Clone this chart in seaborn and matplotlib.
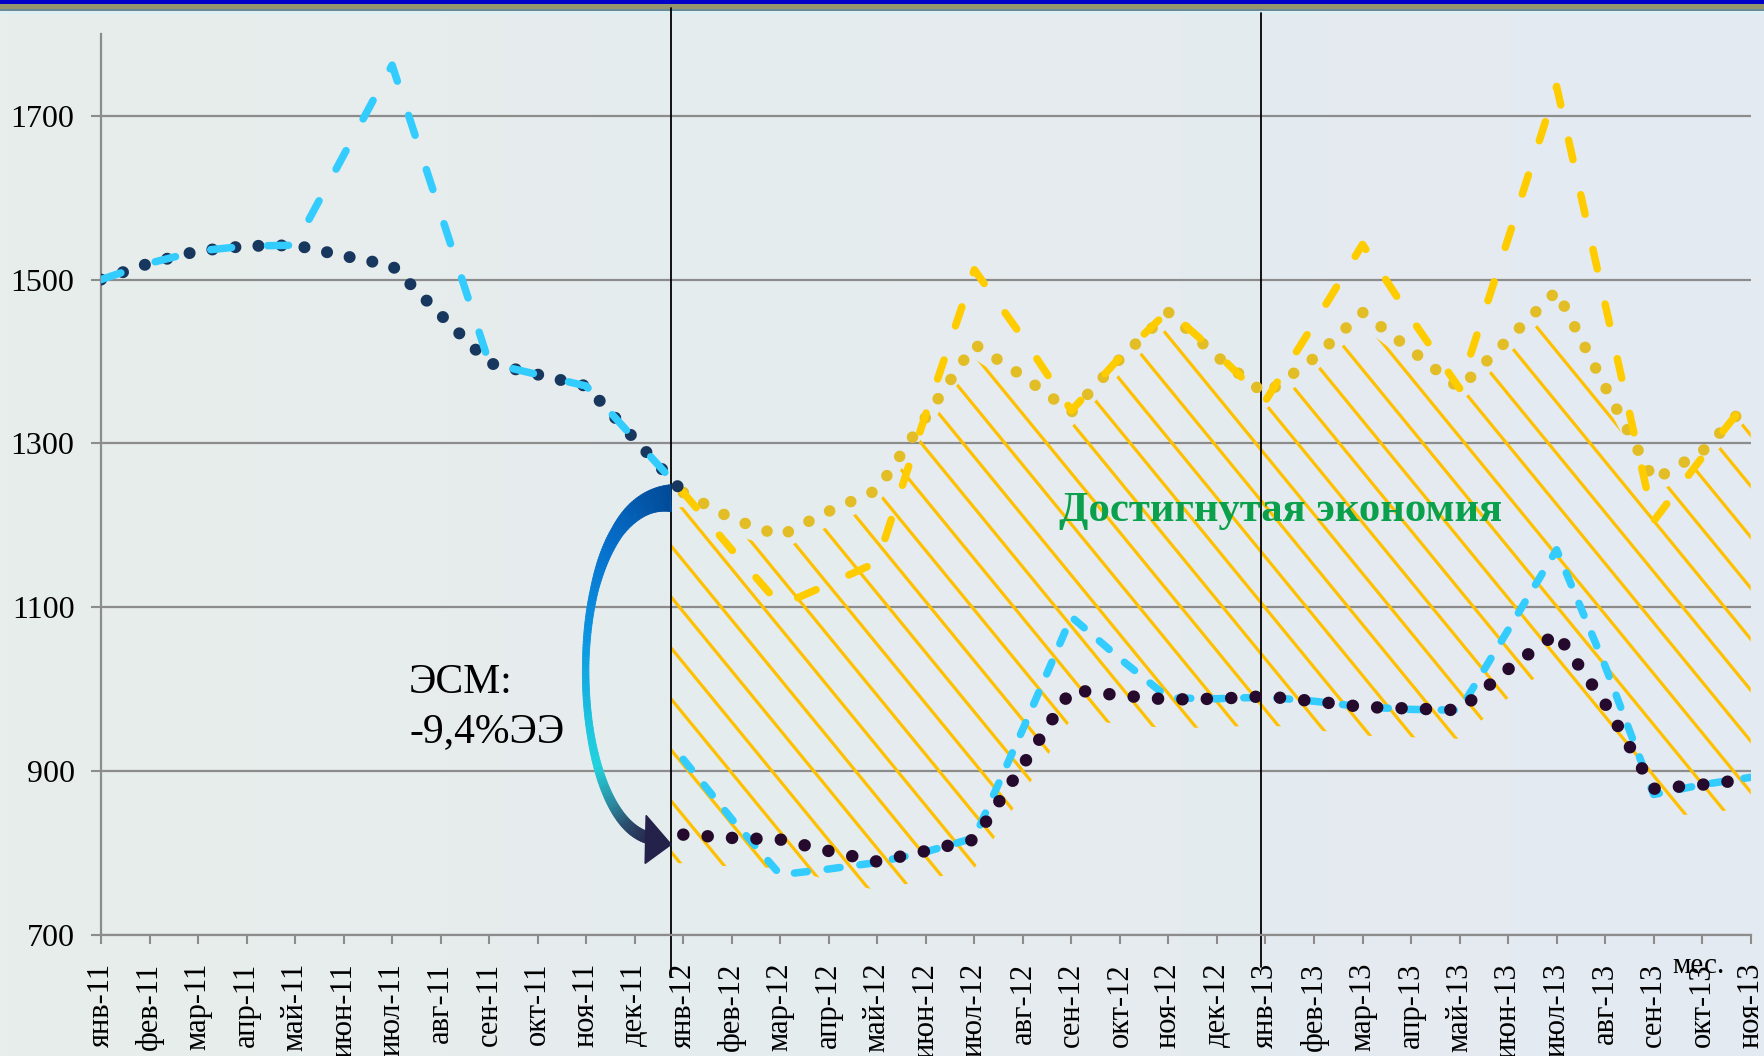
import numpy as np
import matplotlib
matplotlib.use("Agg")
import matplotlib.pyplot as plt
import seaborn as sns
from matplotlib.collections import LineCollection, PolyCollection
from matplotlib.patches import Rectangle, Polygon
from matplotlib.transforms import IdentityTransform
from matplotlib.colors import LinearSegmentedColormap

# ---- data -------------------------------------------------------------
month_names = ["янв", "фев", "мар", "апр", "май", "июн",
               "июл", "авг", "сен", "окт", "ноя", "дек"]
tick_labels = [f"{m}-{y}" for y in ("11", "12", "13") for m in month_names][:35]

# 2011 (before energy-saving measures), months 0..12
x_2011 = list(range(0, 13))
base_2011 = [1500, 1520, 1535, 1541, 1542, 1529, 1517, 1457, 1398, 1384, 1370, 1305, 1240]
fact_2011 = [1500, 1520, 1535, 1541, 1542, 1652, 1762, 1581, 1398, 1384, 1370, 1305, 1240]

# 2012-2013, months 12..34
x_2012 = list(range(12, 35))
base_forecast_dotted = [1240, 1208, 1187, 1217, 1243, 1332, 1421, 1382, 1338, 1403, 1460, 1406,
                        1360, 1404, 1460, 1414, 1367, 1427, 1486, 1369, 1255, 1290, 1352]
base_forecast_dashed = [1240, 1170, 1102, 1128, 1155, 1336, 1512, 1429, 1340, 1405, 1462, 1410,
                        1352, 1446, 1543, 1453, 1367, 1550, 1736, 1470, 1205, 1283, 1357]
esm_dotted = [822, 818, 816, 802, 789, 802, 816, 907, 999, 992, 987, 988,
              991, 985, 978, 976, 974, 1024, 1068, 982, 878, 883, 890]
esm_dashed = [914, 841, 773, 780, 788, 801, 818, 951, 1088, 1037, 989, 988,
              990, 985, 978, 975, 974, 1072, 1170, 1028, 871, 883, 892]

year_breaks = [11.75, 23.9]
y_ticks = [700, 900, 1100, 1300, 1500, 1700]

# ---- style ------------------------------------------------------------
sns.set_theme(style="white")
plt.rcParams["font.family"] = ["Liberation Serif", "DejaVu Serif"]

W, H, DPI = 1765, 1056, 100
fig = plt.figure(figsize=(W / DPI, H / DPI), dpi=DPI)

# soft background gradient
bg = fig.add_axes([0, 0, 1, 1], zorder=-10)
g = np.linspace(0, 1, 256)
c0 = np.array([231, 238, 235]) / 255
c1 = np.array([228, 234, 242]) / 255
img = c0[None, None, :] * (1 - g[None, :, None]) + c1[None, None, :] * g[None, :, None]
bg.imshow(img, aspect="auto", extent=[0, 1, 0, 1])
bg.axis("off")

# header strip
for y0, h, col in [(4.5, 4.5, "#0000c8"), (9.5, 5.0, "#96966e"),
                   (10.5, 1.0, "#6a8a96"), (13.5, 3.0, "#dcf0f4")]:
    fig.add_artist(Rectangle((0, 1 - y0 / H), 1, h / H, transform=fig.transFigure,
                             facecolor=col, edgecolor="none", zorder=-5))

ax = fig.add_axes([101 / W, (H - 934.5) / H, (1750.7 - 101) / W, 900.5 / H])
ax.set_facecolor("none")

GREY = "#8c8c8c"
GOLD = "#ffcc00"
GOLD_DOT = "#e2bd26"
SKY = "#33ccff"
NAVY = "#17375e"
PLUM = "#250a2d"

px = 0.72  # points per pixel at 100 dpi


def dotted(lw_px, step_px):
    return dict(linewidth=lw_px * px, linestyle=(0, (0.01, step_px / lw_px)),
                dash_capstyle="round", solid_capstyle="round")


def dashed(lw_px, on_px, off_px):
    return dict(linewidth=lw_px * px, linestyle=(0, (on_px / lw_px, off_px / lw_px)),
                dash_capstyle="round", solid_capstyle="round")


# forecast without measures
sns.lineplot(x=x_2012, y=base_forecast_dotted, ax=ax, color=GOLD_DOT, sort=False,
             legend=False, zorder=3, **dotted(11.5, 23))
sns.lineplot(x=x_2012, y=base_forecast_dashed, ax=ax, color=GOLD, sort=False,
             legend=False, zorder=3.2, **dashed(7.5, 20, 36))
# 2011
sns.lineplot(x=x_2011, y=base_2011, ax=ax, color=NAVY, sort=False,
             legend=False, zorder=4, **dotted(12, 23))
sns.lineplot(x=x_2011, y=fact_2011, ax=ax, color=SKY, sort=False,
             legend=False, zorder=4.5, **dashed(7.5, 21, 36))
# with measures
sns.lineplot(x=x_2012, y=esm_dashed, ax=ax, color=SKY, sort=False,
             legend=False, zorder=4, **dashed(7.5, 13, 20))
sns.lineplot(x=x_2012, y=esm_dotted, ax=ax, color=PLUM, sort=False,
             legend=False, zorder=5, **dotted(12.5, 24.3))

ax.set_xlim(0, 34)
ax.set_ylim(700, 1800)
ax.set_xlabel("")
ax.set_ylabel("")

# axes cosmetics
ax.set_yticks(y_ticks)
ax.set_xticks(range(len(tick_labels)))
ax.set_xticklabels(tick_labels, rotation=90, fontsize=22)
ax.set_yticklabels([str(v) for v in y_ticks], fontsize=23)
ax.yaxis.grid(True, color=GREY, linewidth=1.6)
ax.xaxis.grid(False)
ax.set_axisbelow(True)
for side in ("top", "right"):
    ax.spines[side].set_visible(False)
for side in ("left", "bottom"):
    ax.spines[side].set_color(GREY)
    ax.spines[side].set_linewidth(1.6)
ax.tick_params(axis="x", direction="out", length=6.5, width=1.5, color=GREY,
               pad=14, labelcolor="black", bottom=True)
ax.tick_params(axis="y", direction="out", length=7, width=1.5, color=GREY,
               pad=12, labelcolor="black", left=True)

# year separators
ax.axvline(year_breaks[0], ymin=-0.047, ymax=1.029, color="black", lw=1.3,
           clip_on=False, zorder=2.5)
ax.axvline(year_breaks[1], ymin=-0.036, ymax=1.023, color="black", lw=1.3,
           clip_on=False, zorder=2.5)

# ---- hatched "savings" band between forecast and actual ----------------
hx = [year_breaks[0]] + x_2012
upper = np.array([base_forecast_dotted[0]] + base_forecast_dotted) - 18
lower = np.array([esm_dotted[0]] + esm_dotted) - 35
band = ax.fill_between(hx, lower, upper, facecolor="none", edgecolor="none", zorder=1)
band_path = band.get_paths()[0]

bx, by = ax.transData.transform((year_breaks[0], 1050))
slope, step = -1.22, 51.0
segs = []
for k in range(-70, 70):
    y0 = by + k * step
    segs.append([(0, y0 + slope * (0 - bx)), (W, y0 + slope * (W - bx))])
hatch = LineCollection(segs, colors="#ffc000", linewidths=2.3,
                       transform=IdentityTransform(), zorder=1.5)
ax.add_collection(hatch, autolim=False)
hatch.set_clip_path(band_path, ax.transData)

# ---- curved gradient arrow -------------------------------------------
p0 = np.array(ax.transData.transform((year_breaks[0], 1233)))
tip = np.array(ax.transData.transform((year_breaks[0], 810)))
P0 = p0
P1 = p0 + np.array([-113, 0])
P2 = p0 + np.array([-108, -323])
P3 = tip + np.array([-20, 6])
t = np.linspace(0, 1, 160)[:, None]
curve = ((1 - t) ** 3) * P0 + 3 * ((1 - t) ** 2) * t * P1 + 3 * (1 - t) * t ** 2 * P2 + t ** 3 * P3
d = np.gradient(curve, axis=0)
d /= np.linalg.norm(d, axis=1)[:, None]
nrm = np.column_stack([-d[:, 1], d[:, 0]])
wt = np.interp(t[:, 0], [0, 0.08, 0.2, 0.35, 0.5, 0.65, 0.8, 0.92, 1.0],
               [27, 21, 13, 8, 6.5, 7, 9, 11, 12])
left = curve + nrm * wt[:, None] / 2
right = curve - nrm * wt[:, None] / 2
cmap = LinearSegmentedColormap.from_list("swoosh", [
    (0.0, "#004a98"), (0.25, "#0670cc"), (0.45, "#0a95e2"), (0.62, "#1cc4e0"),
    (0.72, "#22d2dc"), (0.82, "#2a8aa0"), (0.9, "#2a4a6a"), (1.0, "#24224a")])
quads, cols = [], []
for i in range(len(t) - 1):
    quads.append([left[i], left[i + 1], right[i + 1], right[i]])
    cols.append(cmap(float(t[i, 0])))
swoosh = PolyCollection(quads, facecolors=cols, edgecolors=cols, linewidths=0.6,
                        transform=IdentityTransform(), zorder=6)
swoosh.set_clip_on(False)
ax.add_collection(swoosh, autolim=False)
head = Polygon([tip, tip + np.array([-25, 29]), tip + np.array([-26, -19])],
               closed=True, facecolor="#24224a", edgecolor="#24224a",
               transform=IdentityTransform(), zorder=6.5)
head.set_clip_on(False)
ax.add_patch(head)

# ---- annotations ------------------------------------------------------
ax.text(6.35, 995, "ЭСМ:", fontsize=30, color="black", va="baseline", ha="left", zorder=7)
ax.text(6.35, 935, "-9,4%ЭЭ", fontsize=30, color="black", va="baseline", ha="left", zorder=7)
ax.text(19.75, 1205, "Достигнутая экономия", fontsize=30.8, fontweight="bold",
        color="#0aa04c", va="baseline", ha="left", zorder=7)
ax.text(32.39, 653, "мес.", fontsize=21, color="black", va="baseline", ha="left",
        clip_on=False, zorder=7)

fig.savefig("out.png", dpi=DPI)
